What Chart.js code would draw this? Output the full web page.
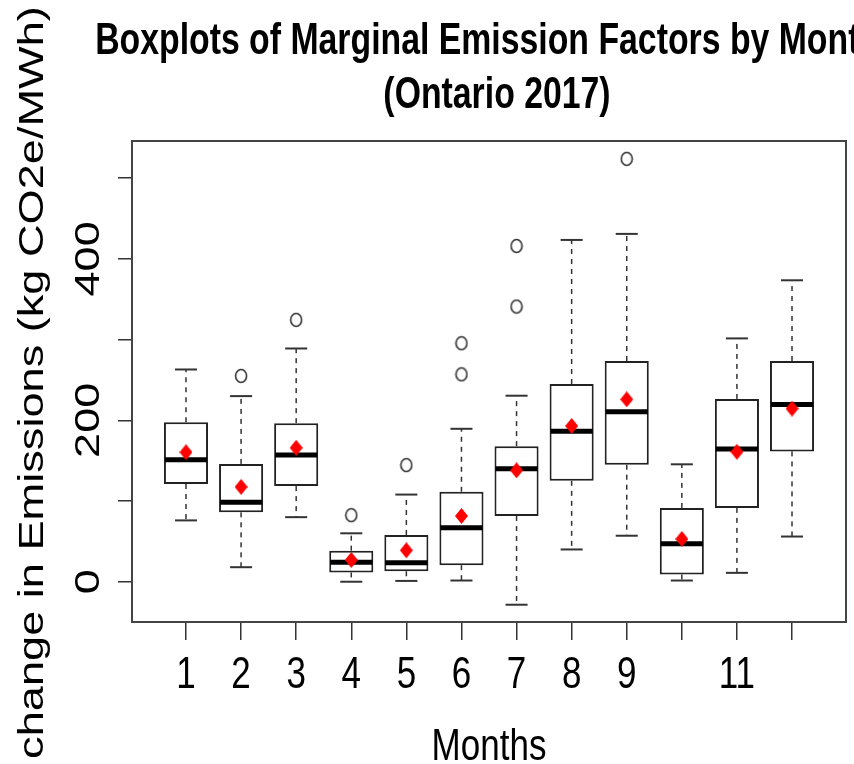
<!DOCTYPE html>
<html>
<head>
<meta charset="utf-8">
<script src="https://cdn.jsdelivr.net/npm/chart.js@4.4.1/dist/chart.umd.min.js"></script>
<style>
  html, body { margin: 0; padding: 0; background: #fff; }
  #wrap { width: 854px; height: 764px; }
</style>
</head>
<body>
<div id="wrap"><canvas id="myChart" width="854" height="764"></canvas></div>
<script>
// monthly box stats, kg CO2e/MWh
const months = [1, 2, 3, 4, 5, 6, 7, 8, 9, 10, 11, 12];
const lowerWhisker = [76, 18, 80, 0, 1, 1.5, -28.5, 40, 57, 1.5, 11, 56];
const q1 = [121, 86, 118.5, 11.5, 13, 20.5, 81.5, 125, 145, 9, 91.5, 161.5];
const median = [151, 98.5, 157, 24, 23.5, 67, 140, 186.5, 210.5, 47, 164.5, 219.5];
const q3 = [197.5, 146, 196.5, 38.5, 58, 111.5, 168, 245, 273.5, 91.5, 226.5, 273.5];
const upperWhisker = [263, 230, 289, 60, 108, 189.5, 230.5, 423.5, 431, 145.5, 301.5, 373.5];
const means = [160.5, 117.5, 166, 27, 39, 81.5, 138, 193, 226, 53, 161, 214.5];

const outlierMonths = [2, 3, 4, 5, 6, 6, 7, 7, 9];
const outlierValues = [255, 324.5, 82.5, 144.5, 257, 295.5, 341, 416, 524];

// R drops the labels that would overlap (10 and 12)
const xTickLabels = ['1', '2', '3', '4', '5', '6', '7', '8', '9', '', '11', ''];
const yTicks = [0, 100, 200, 300, 400, 500];
const yTickLabels = [0, 200, 400];

const titleLines = ['Boxplots of Marginal Emission Factors by Months', '(Ontario 2017)'];
const xTitle = 'Months';
const yTitle = 'change in Emissions (kg CO2e/MWh)';

const FONT = "'Liberation Sans', Arial, Helvetica, sans-serif";
const K = 1.29; // text is drawn tall and narrow, like the stretched R device

// point markers, a bit taller than wide
function makeMarker(w, h, draw) {
  const cv = document.createElement('canvas');
  cv.width = w;
  cv.height = h;
  draw(cv.getContext('2d'), w, h);
  return cv;
}
const diamond = makeMarker(13, 16, (g, w, h) => {
  g.fillStyle = '#ff0000';
  g.beginPath();
  g.moveTo(w / 2, 0);
  g.lineTo(w, h / 2);
  g.lineTo(w / 2, h);
  g.lineTo(0, h / 2);
  g.closePath();
  g.fill();
});
const ring = makeMarker(14, 16, (g, w, h) => {
  g.strokeStyle = '#333';
  g.lineWidth = 1.6;
  g.beginPath();
  g.ellipse(w / 2, h / 2, w / 2 - 1.5, h / 2 - 1.5, 0, 0, Math.PI * 2);
  g.stroke();
});

function line(c, x1, y1, x2, y2) {
  c.beginPath();
  c.moveTo(x1, y1);
  c.lineTo(x2, y2);
  c.stroke();
}

// whiskers, caps and medians on top of the floating bars
const boxExtras = {
  id: 'boxExtras',
  afterDatasetDraw(chart, args) {
    if (args.index !== 0) return;
    const c = chart.ctx;
    const xs = chart.scales.x, ys = chart.scales.y;
    const half = args.meta.data[0].width / 2;
    c.save();
    months.forEach((m, i) => {
      const px = xs.getPixelForValue(m);
      c.strokeStyle = '#333';
      c.lineWidth = 1.5;
      c.setLineDash([5, 5]);
      line(c, px, ys.getPixelForValue(q3[i]), px, ys.getPixelForValue(upperWhisker[i]));
      line(c, px, ys.getPixelForValue(q1[i]), px, ys.getPixelForValue(lowerWhisker[i]));
      c.setLineDash([]);
      c.lineWidth = 2;
      line(c, px - half / 2, ys.getPixelForValue(upperWhisker[i]), px + half / 2, ys.getPixelForValue(upperWhisker[i]));
      line(c, px - half / 2, ys.getPixelForValue(lowerWhisker[i]), px + half / 2, ys.getPixelForValue(lowerWhisker[i]));
      c.strokeStyle = '#000';
      c.lineWidth = 5;
      line(c, px - half + 1, ys.getPixelForValue(median[i]), px + half - 1, ys.getPixelForValue(median[i]));
    });
    c.restore();
  }
};

function stretchedText(c, text, x, y, font, rotated) {
  c.save();
  c.translate(x, y);
  if (rotated) {
    c.rotate(-Math.PI / 2);
    c.scale(K, 1);
  } else {
    c.scale(1, K);
  }
  c.font = font;
  c.fillStyle = '#000';
  c.textAlign = 'center';
  c.textBaseline = 'alphabetic';
  c.fillText(text, 0, 0);
  c.restore();
}

// frame, titles and tick labels
const frameAndText = {
  id: 'frameAndText',
  afterDraw(chart) {
    const c = chart.ctx;
    const a = chart.chartArea;
    const xs = chart.scales.x, ys = chart.scales.y;
    c.save();
    c.strokeStyle = '#444';
    c.lineWidth = 2;
    c.strokeRect(a.left, a.top, a.right - a.left, a.bottom - a.top);
    c.restore();

    const cx = (a.left + a.right) / 2;
    stretchedText(c, titleLines[0], cx + 8, 54, 'bold 33.8px ' + FONT, false);
    stretchedText(c, titleLines[1], cx + 8, 108, 'bold 33.8px ' + FONT, false);

    months.forEach((m, i) => {
      if (xTickLabels[i]) stretchedText(c, xTickLabels[i], xs.getPixelForValue(m), 688, '35px ' + FONT, false);
    });
    stretchedText(c, xTitle, cx, 760, '35px ' + FONT, false);

    yTickLabels.forEach(v => {
      stretchedText(c, String(v), 99, ys.getPixelForValue(v), '35px ' + FONT, true);
    });
    stretchedText(c, yTitle, 43, (a.top + a.bottom) / 2 + 1, '35px ' + FONT, true);
  }
};

const ctx = document.getElementById('myChart').getContext('2d');

const myChart = new Chart(ctx, {
  type: 'bar',
  data: {
    datasets: [{
      type: 'bar',
      data: months.map((m, i) => ({ x: m, y: [q1[i], q3[i]] })),
      backgroundColor: '#ffffff',
      borderColor: '#222',
      borderWidth: 2,
      borderSkipped: false,
      barPercentage: 0.8,
      categoryPercentage: 1,
      order: 3
    }, {
      type: 'scatter',
      data: outlierMonths.map((m, i) => ({ x: m, y: outlierValues[i] })),
      pointStyle: ring,
      order: 2
    }, {
      type: 'scatter',
      data: months.map((m, i) => ({ x: m, y: means[i] })),
      pointStyle: diamond,
      order: 1
    }]
  },
  options: {
    responsive: false,
    animation: false,
    events: [],
    layout: { padding: { left: 118, right: 8, top: 141, bottom: 124 } },
    plugins: {
      legend: { display: false },
      tooltip: { enabled: false }
    },
    scales: {
      x: {
        type: 'linear',
        min: 0.02,
        max: 12.98,
        offset: false,
        afterBuildTicks: axis => { axis.ticks = months.map(v => ({ value: v })); },
        grid: { offset: false, drawOnChartArea: false, drawTicks: true, tickLength: 18, tickColor: '#333', lineWidth: 1.5 },
        border: { display: false },
        ticks: { display: false }
      },
      y: {
        type: 'linear',
        min: -49.9,
        max: 546.1,
        afterBuildTicks: axis => { axis.ticks = yTicks.map(v => ({ value: v })); },
        grid: { drawOnChartArea: false, drawTicks: true, tickLength: 14, tickColor: '#333', lineWidth: 1.5 },
        border: { display: false },
        ticks: { display: false }
      }
    }
  },
  plugins: [boxExtras, frameAndText]
});
</script>
</body>
</html>
